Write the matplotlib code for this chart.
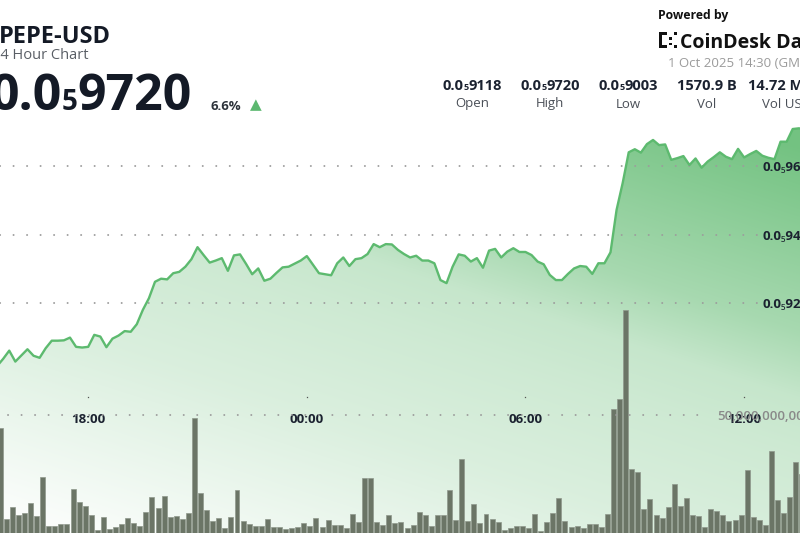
import numpy as np
import pandas as pd
import matplotlib
matplotlib.use("Agg")
import matplotlib.pyplot as plt
import matplotlib.dates as mdates
from matplotlib.patches import Rectangle
from matplotlib.transforms import IdentityTransform

plt.rcParams['font.family'] = ['Open Sans', 'Noto Sans', 'DejaVu Sans']

# 10 minute candles, prices in units of 1e-6 USD, volumes in billions of PEPE
start = '2025-09-30 15:30'
prices = [
    9.016, 9.037, 9.061, 9.029, 9.047, 9.065, 9.046, 9.040, 9.068, 9.090,
    9.090, 9.091, 9.099, 9.072, 9.070, 9.072, 9.107, 9.102, 9.071, 9.096,
    9.105, 9.118, 9.116, 9.138, 9.180, 9.214, 9.262, 9.271, 9.269, 9.287,
    9.291, 9.306, 9.328, 9.363, 9.340, 9.318, 9.324, 9.331, 9.294, 9.339,
    9.342, 9.314, 9.284, 9.301, 9.265, 9.271, 9.288, 9.304, 9.306, 9.315,
    9.324, 9.337, 9.312, 9.287, 9.284, 9.281, 9.316, 9.333, 9.308, 9.328,
    9.331, 9.343, 9.372, 9.363, 9.372, 9.371, 9.355, 9.343, 9.333, 9.338,
    9.324, 9.324, 9.316, 9.267, 9.258, 9.306, 9.342, 9.338, 9.321, 9.331,
    9.303, 9.353, 9.358, 9.333, 9.350, 9.360, 9.349, 9.349, 9.340, 9.321,
    9.313, 9.282, 9.267, 9.267, 9.285, 9.301, 9.308, 9.306, 9.285, 9.316,
    9.316, 9.348, 9.472, 9.550, 9.640, 9.649, 9.639, 9.664, 9.676, 9.661,
    9.663, 9.618, 9.623, 9.629, 9.603, 9.622, 9.595, 9.613, 9.626, 9.640,
    9.627, 9.620, 9.650, 9.625, 9.635, 9.644, 9.630, 9.624, 9.620, 9.671,
    9.671, 9.708, 9.710, 9.708,
]
volumes = [
    44.7, 8.3, 13.3, 10.0, 10.9, 14.7, 9.6, 25.1, 5.6, 5.6,
    6.3, 6.4, 20.3, 15.3, 13.7, 10.0, 4.0, 9.2, 4.3, 5.1,
    6.4, 8.7, 6.7, 5.7, 11.2, 17.1, 12.7, 17.7, 9.1, 9.7,
    8.3, 10.9, 48.7, 18.7, 12.0, 7.6, 8.7, 4.9, 9.1, 20.0,
    7.7, 6.3, 5.6, 5.6, 8.4, 5.3, 5.3, 4.4, 4.7, 5.3,
    6.7, 5.6, 8.7, 5.3, 8.0, 6.0, 6.0, 4.9, 10.4, 7.3,
    24.7, 24.7, 7.3, 5.9, 10.1, 6.7, 7.2, 4.7, 6.0, 11.2,
    10.1, 5.7, 10.0, 10.0, 20.0, 8.0, 32.5, 7.7, 14.5, 6.7,
    10.5, 8.3, 7.2, 4.0, 4.8, 5.6, 5.6, 4.7, 10.3, 3.6,
    7.3, 10.7, 16.9, 7.7, 5.1, 5.7, 4.9, 6.4, 6.4, 5.1,
    10.3, 52.3, 56.4, 92.0, 28.4, 27.3, 12.3, 16.3, 10.0, 8.7,
    13.3, 22.4, 13.6, 16.7, 10.0, 9.6, 5.1, 12.3, 11.6, 10.0,
    7.6, 8.0, 10.0, 28.0, 9.3, 8.0, 5.9, 35.7, 16.0, 10.7,
    17.1, 31.1, 26.4,
]

price_ticks = [9.2, 9.4, 9.6]
price_labels = ['0.0₅92', '0.0₅94', '0.0₅96']
vol_ticks = [50]
vol_labels = ['50,000,000,000']
time_ticks = ['2025-09-30 18:00', '2025-10-01 00:00', '2025-10-01 06:00', '2025-10-01 12:00']
time_labels = ['18:00', '00:00', '06:00', '12:00']

stat_values = [('0.0', '5', '9118'), ('0.0', '5', '9720'), ('0.0', '5', '9003'), ('1570.9 B', '', ''), ('14.72 M', '', '')]
stat_names = ['Open', 'High', 'Low', 'Vol', 'Vol USD']

W, H = 800, 533
fig = plt.figure(figsize=(W / 100, H / 100), dpi=100)
ax = fig.add_axes([0, 0, 1, 1])
ax2 = ax.twinx()

price_times = pd.date_range(start, periods=len(prices), freq='10min')
vol_times = pd.date_range(start, periods=len(volumes), freq='10min')
step = pd.Timedelta(minutes=10)

xlim = (pd.Timestamp('2025-09-30 15:34:47'), pd.Timestamp('2025-10-01 13:32:00'))
ylim = (8.5285, 10.0847)

# gradient fill under the price line (tilted, greener toward the top right)
green = np.array([96, 186, 112]) / 255.0
yy, xx = np.mgrid[0:H, 0:W]
s = yy - 0.32 * xx
a = np.interp(s, [-110, 76, 142, 196, 313, 418, 504], [0.88, 0.55, 0.36, 0.31, 0.23, 0.12, 0.03])
grad = 1 - a[..., None] * (1 - green)
x0, x1 = mdates.date2num(xlim[0]), mdates.date2num(xlim[1])
im = ax.imshow(grad, extent=(x0, x1, ylim[0], ylim[1]), origin='upper',
               aspect='auto', interpolation='bilinear', zorder=1)
poly = ax.fill_between(price_times, prices, ylim[0] - 1, facecolor='none', edgecolor='none')
im.set_clip_path(poly.get_paths()[0], transform=ax.transData)

ax.plot(price_times, prices, color='#5dba6f', lw=1.7, solid_joinstyle='round', zorder=3)

dots = dict(color='#9c9c9c', lw=1.4, linestyle=(0, (0.05, 6.9)), dash_capstyle='round', zorder=2)
for p in price_ticks:
    ax.axhline(p, xmin=0, xmax=0.947, **dots)

ax.set_xlim(xlim)
ax.set_ylim(ylim)
ax.yaxis.tick_right()
ax.set_yticks(price_ticks, price_labels)
ax.tick_params(axis='y', length=0, pad=-27, labelsize=9.5, labelcolor='#1b2230')
for t in ax.get_yticklabels():
    t.set_fontweight('bold')
ax.set_xticks(pd.to_datetime(time_ticks), time_labels)
ax.tick_params(axis='x', length=0, pad=-86.5, labelsize=9.5, labelcolor='#1b2230')
for t in ax.get_xticklabels():
    t.set_fontweight('bold')
    t.set_zorder(6)
# tiny tick dots above the time labels
ax.plot(pd.to_datetime(time_ticks), [1 - 397 / H] * len(time_ticks), ls='none', marker='s',
        ms=0.9, mew=0, color='#555555', transform=ax.get_xaxis_transform(), zorder=4)

# volume bars
ax2.bar(vol_times + step / 2, volumes, width=step * 0.82, color='#6b7566',
        edgecolor='#8f988c', linewidth=0.5, zorder=2)
ax2.axhline(vol_ticks[0], xmin=0.01, xmax=0.882, **dots)
ax2.set_ylim(2.8, 216)
ax2.set_yticks(vol_ticks, vol_labels)
ax2.tick_params(axis='y', length=0, pad=-59.8, labelsize=9.5, labelcolor='#8a8a8a')
for t in ax2.get_yticklabels():
    t.set_fontweight('semibold')
ax2.set_xlim(xlim)

for axis in (ax, ax2):
    for sp in axis.spines.values():
        sp.set_visible(False)
    axis.set_facecolor('none')
ax.set_facecolor('white')
ax.set_zorder(0)
ax2.set_zorder(1)

renderer = fig.canvas.get_renderer()


def fx(x, y):
    return x / W, 1 - y / H


def sub_number(x, y_base, head, sub, tail, size, sub_size, color, align):
    texts = []
    for txt, sz in ((head, size), (sub, sub_size), (tail, size)):
        if txt:
            texts.append(fig.text(0, 0, txt, size=sz, weight='bold', color=color, va='baseline'))
    widths = [t.get_window_extent(renderer).width for t in texts]
    left = x - sum(widths) * align
    for t, w in zip(texts, widths):
        t.set_position(fx(left, y_base))
        left += w


# header
fig.text(*fx(-1, 42.7), 'PEPE-USD', size=17, weight='bold', color='#141a26', va='baseline')
fig.text(*fx(-8.5, 59), '24 Hour Chart', size=10.5, color='#5a5f66', va='baseline')
sub_number(192, 110, '0.0', '5', '9720', 36, 20, '#141a26', 1.0)
fig.text(*fx(226, 110), '6.6%', size=9.5, weight='bold', color='#2d333b', va='baseline', ha='center')
fig.text(*fx(255.5, 105), '▲', size=11, color='#5cb870', va='center', ha='center',
         family=['DejaVu Sans'])

fig.text(*fx(658, 19), 'Powered by', size=8.8, weight='bold', color='#111111', va='baseline')
fig.text(*fx(680, 47.5), 'CoinDesk Data', size=14, weight='bold', color='#111111', va='baseline')
for rx, ry, rw, rh in [(659, 32, 3.2, 16), (659, 32, 8, 3), (659, 45, 8, 3),
                       (669, 37, 2.6, 2.6), (669, 42.5, 2.6, 2.6),
                       (674, 32, 2.6, 2.6), (674, 45.4, 2.6, 2.6)]:
    fig.add_artist(Rectangle((rx, H - ry - rh), rw, rh, transform=IdentityTransform(),
                             facecolor='#111111', edgecolor='none'))
fig.text(*fx(668, 67), '1 Oct 2025 14:30 (GMT)', size=9.5, color='#9b9b9b', va='baseline')

stat_x = [472, 550, 628, 707]
for xc, (head, sub, tail), name in zip(stat_x, stat_values[:4], stat_names[:4]):
    sub_number(xc, 89.5, head, sub, tail, 10.5, 6.5, '#1b2230', 0.5)
    fig.text(*fx(xc, 107.5), name, size=9.5, color='#4a4f57', va='baseline', ha='center')
sub_number(748, 89.5, stat_values[4][0], '', '', 10.5, 6.5, '#1b2230', 0.0)
fig.text(*fx(762, 107.5), stat_names[4], size=9.5, color='#4a4f57', va='baseline')

fig.savefig('out.png', dpi=100)
